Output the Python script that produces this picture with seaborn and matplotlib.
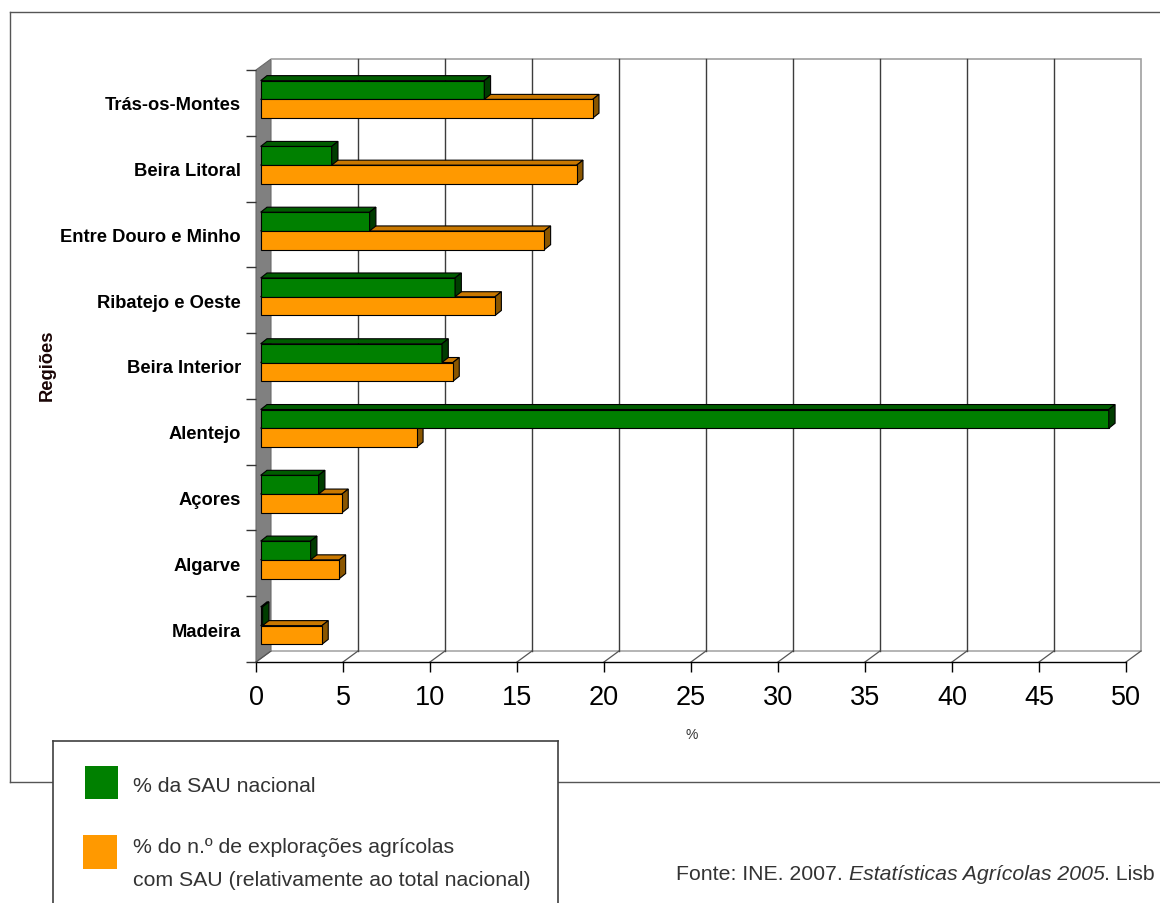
import numpy as np
import pandas as pd
import matplotlib
matplotlib.use("Agg")
import matplotlib.pyplot as plt
import seaborn as sns
from matplotlib import font_manager
from matplotlib.patches import Polygon, Rectangle
from matplotlib.lines import Line2D
from matplotlib.transforms import Affine2D

# ---------------- data ----------------
regions = ["Trás-os-Montes", "Beira Litoral", "Entre Douro e Minho",
           "Ribatejo e Oeste", "Beira Interior", "Alentejo", "Açores",
           "Algarve", "Madeira"]
sau_share = [12.85, 4.08, 6.26, 11.17, 10.42, 48.74, 3.33, 2.87, 0.11]
farms_share = [19.08, 18.16, 16.30, 13.47, 11.05, 8.97, 4.67, 4.52, 3.52]
series_names = ["% da SAU nacional",
                "% do n.º de explorações agrícolas\ncom SAU (relativamente ao total nacional)"]
x_ticks = [0, 5, 10, 15, 20, 25, 30, 35, 40, 45, 50]
y_axis_title = "Regiões"
x_axis_title = "%"
source_parts = ["Fonte: INE. 2007. ", "Estatísticas Agrícolas 2005", ". Lisb"]

# ---------------- style ----------------
GREEN = "#008000"
GREEN_TOP = "#005c00"
GREEN_SIDE = "#003d00"
ORANGE = "#ff9900"
ORANGE_TOP = "#c97800"
ORANGE_SIDE = "#8a5600"
TEXT = "#333333"

plt.rcParams["font.family"] = ["Liberation Sans", "DejaVu Sans"]

installed = {f.name for f in font_manager.fontManager.ttflist}
if "Liberation Sans Narrow" in installed:
    tick_family, tick_size = ["Liberation Sans Narrow", "DejaVu Sans"], 21
else:
    tick_family, tick_size = ["Liberation Sans", "DejaVu Sans"], 19.5

W, H = 1160, 904
fig = plt.figure(figsize=(W / 100, H / 100), dpi=100)


def fx(px):
    return px / W


def fy(py):
    return 1 - py / H


ax = fig.add_axes([fx(256), fy(663), (1126 - 256) / W, (663 - 71) / H])
ax.set_facecolor("none")

df = pd.DataFrame({
    "Região": regions * 2,
    "valor": sau_share + farms_share,
    "Série": [series_names[0]] * len(regions) + [series_names[1]] * len(regions),
})

sns.barplot(data=df, x="valor", y="Região", hue="Série", order=regions,
            hue_order=series_names, palette=[GREEN, ORANGE], orient="h",
            width=0.57, edgecolor="black", linewidth=0.8, saturation=1,
            errorbar=None, legend=False, ax=ax)

ax.set_xlim(0, 50)
ax.set_ylim(len(regions) - 0.5, -0.5)

# pixel -> data unit conversions (3D projection helpers)
PX_X = 50 / 870.0
PX_Y = len(regions) / 592.0
BSX, BSY = 4.7 * PX_X, -3.5 * PX_Y      # bar front plane shift
DX, DY = 6.3 * PX_X, -5.0 * PX_Y        # bar depth
WX, WY = 15.0 * PX_X, -11.0 * PX_Y      # wall depth

ytop_ax, ybot_ax = -0.5, len(regions) - 0.5

# ---- walls / floor ----
ax.add_patch(Polygon([(0, ytop_ax), (WX, ytop_ax + WY), (WX, ybot_ax + WY), (0, ybot_ax)],
                     closed=True, facecolor="#808080", edgecolor="#6a6a6a", lw=0.8,
                     zorder=0.6, clip_on=False))
ax.add_patch(Polygon([(WX, ytop_ax + WY), (50 + WX, ytop_ax + WY), (50 + WX, ybot_ax + WY)],
                     closed=False, fill=False, edgecolor="#a0a0a0", lw=1.2,
                     zorder=0.6, clip_on=False))
ax.add_line(Line2D([WX, 50 + WX], [ybot_ax + WY, ybot_ax + WY], color="#a8a8a8",
                   lw=1.2, zorder=0.6, clip_on=False))
for v in x_ticks:
    if 0 < v < 50:
        ax.add_line(Line2D([v + WX, v + WX], [ytop_ax + WY, ybot_ax + WY],
                           color="#3c3c3c", lw=1.0, zorder=0.7, clip_on=False))
    ax.add_line(Line2D([v, v + WX], [ybot_ax, ybot_ax + WY], color="#555555",
                       lw=0.9, zorder=0.7, clip_on=False))

# ---- 3D bar faces ----
shift = Affine2D().translate(BSX, BSY)
for p in list(ax.patches):
    if not isinstance(p, Rectangle):
        continue
    fc = p.get_facecolor()
    is_green = fc[0] < 0.5
    x0 = p.get_x() + BSX
    x1 = p.get_x() + p.get_width() + BSX
    yt = p.get_y() + BSY
    yb = p.get_y() + p.get_height() + BSY
    p.set_transform(shift + ax.transData)
    p.set_clip_on(False)
    top_c, side_c = (GREEN_TOP, GREEN_SIDE) if is_green else (ORANGE_TOP, ORANGE_SIDE)
    zf = 2.6 if is_green else 2.0
    p.set_zorder(2.5)
    ax.add_patch(Polygon([(x0, yt), (x1, yt), (x1 + DX, yt + DY), (x0 + DX, yt + DY)],
                         closed=True, facecolor=top_c, edgecolor="black", lw=0.8,
                         zorder=zf, clip_on=False))
    ax.add_patch(Polygon([(x1, yt), (x1 + DX, yt + DY), (x1 + DX, yb + DY), (x1, yb)],
                         closed=True, facecolor=side_c, edgecolor="black", lw=0.8,
                         zorder=zf, clip_on=False))

# ---- axes styling ----
for s in ["left", "top", "right"]:
    ax.spines[s].set_visible(False)
ax.spines["bottom"].set_color("black")
ax.spines["bottom"].set_linewidth(1.0)
ax.spines["bottom"].set_zorder(0.8)

ax.set_xticks(x_ticks)
ax.set_xticklabels([str(v) for v in x_ticks])
ax.tick_params(axis="x", length=7.2, width=1, color="black", pad=8.5,
               labelsize=tick_size, labelcolor="black")
for t in ax.get_xticklabels():
    t.set_fontfamily(tick_family)

ax.set_yticks(range(len(regions)))
ax.set_yticklabels(regions, fontweight="bold", fontsize=13.2, color="black")
ax.set_yticks(np.arange(-0.5, len(regions), 1.0), minor=True)
ax.tick_params(axis="y", which="major", length=0, pad=10.8)
ax.tick_params(axis="y", which="minor", length=7.2, width=1, color="#333333")
ax.set_xlabel("")
ax.set_ylabel("")

fig.text(fx(47), fy(365), y_axis_title, rotation=90, fontsize=13.2,
         fontweight="bold", color="#1a0505", ha="center", va="center")
fig.text(fx(692), fy(735), x_axis_title, fontsize=10, color=TEXT,
         ha="center", va="center")

# ---- outer frame ----
fig.add_artist(Line2D([fx(10), fx(10)], [fy(13), fy(783)], color="#555555", lw=1.0))
fig.add_artist(Line2D([fx(10), 1.0], [fy(13), fy(13)], color="#555555", lw=1.0))
fig.add_artist(Line2D([fx(10), 1.0], [fy(783), fy(783)], color="#555555", lw=1.0))

# ---- legend box ----
fig.add_artist(Rectangle((fx(53), 0), fx(558) - fx(53), fy(742), transform=fig.transFigure,
                         facecolor="white", edgecolor="none", zorder=5))
fig.add_artist(Line2D([fx(53), fx(53)], [0, fy(742)], color="#404040", lw=1.2, zorder=6))
fig.add_artist(Line2D([fx(558), fx(558)], [0, fy(742)], color="#404040", lw=1.2, zorder=6))
fig.add_artist(Line2D([fx(53), fx(558)], [fy(742), fy(742)], color="#404040", lw=1.2, zorder=6))

fig.add_artist(Rectangle((fx(85), fy(800)), 33 / W, 33 / H, transform=fig.transFigure,
                         facecolor=GREEN, edgecolor="none", zorder=7))
fig.add_artist(Rectangle((fx(83), fy(870)), 34 / W, 34 / H, transform=fig.transFigure,
                         facecolor=ORANGE, edgecolor="none", zorder=7))
fig.text(fx(133), fy(787), series_names[0], fontsize=15.3, color=TEXT,
         ha="left", va="center", zorder=8)
fig.text(fx(133), fy(864), series_names[1], fontsize=15.3, color=TEXT,
         ha="left", va="center", linespacing=1.9, zorder=8)

# ---- source line ----
t1 = fig.text(fx(676), fy(884), source_parts[0], fontsize=15.3, color=TEXT,
              ha="left", va="bottom")
a2 = plt.annotate(source_parts[1], xy=(1, 0), xycoords=t1, fontsize=15.3,
                  color=TEXT, style="italic", ha="left", va="bottom",
                  annotation_clip=False)
a3 = plt.annotate(source_parts[2], xy=(1, 0), xycoords=a2, fontsize=15.3,
                  color=TEXT, ha="left", va="bottom", annotation_clip=False)

fig.savefig("out.png", dpi=100, facecolor="white")
